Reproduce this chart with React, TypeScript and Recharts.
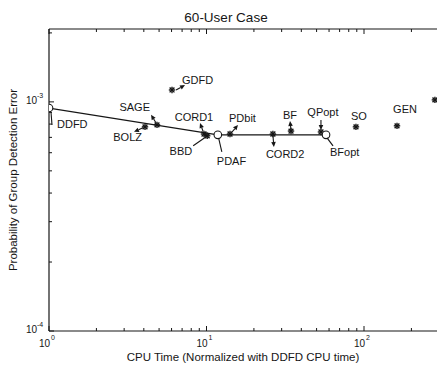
import React from 'react'
import { ComposedChart, Scatter, XAxis, YAxis } from 'recharts'

// methods and their results
const methods = ['DDFD', 'BOLZ', 'SAGE', 'GDFD', 'CORD1', 'BBD', 'PDAF', 'PDbit', 'CORD2', 'BF', 'QPopt', 'BFopt', 'SO', 'GEN', '']
const cpuTime = [1, 4.07, 4.85, 6.04, 9.64, 10.1, 11.8, 14.1, 26.4, 34.4, 53.3, 57.4, 88.9, 162, 282]
const errorProb = [9.4e-4, 7.78e-4, 7.94e-4, 1.127e-3, 7.24e-4, 7.11e-4, 7.18e-4, 7.24e-4, 7.24e-4, 7.46e-4, 7.39e-4, 7.18e-4, 7.78e-4, 7.86e-4, 1.02e-3]
// circled methods, joined by the solid line
const frontier = ['DDFD', 'PDAF', 'BFopt']

const xMajorTicks = [1, 10, 100]
const xMinorTicks = [2, 3, 4, 5, 6, 7, 8, 9, 20, 30, 40, 50, 60, 70, 80, 90, 200]
const yMajorTicks = [1e-4, 1e-3]
const yMinorTicks = [2e-4, 3e-4, 4e-4, 5e-4, 6e-4, 7e-4, 8e-4, 9e-4, 2e-3]

const FONT = '"Liberation Sans", Arial, Helvetica, sans-serif'
const INK = '#161616'

type Note = {
  dx: number
  dy: number
  anchor: 'start' | 'middle' | 'end'
  lead?: [number, number, number, number]
  head?: boolean
}

// where each label sits relative to its marker
const notes: Record<string, Note> = {
  DDFD: { dx: 8, dy: 20, anchor: 'start', lead: [2, 4, 3, 17] },
  BOLZ: { dx: -3, dy: 14, anchor: 'end', lead: [-2, 1, -11, 5], head: true },
  SAGE: { dx: -7, dy: -14, anchor: 'end', lead: [-1, -2, -6, -10], head: true },
  GDFD: { dx: 10, dy: -6, anchor: 'start', lead: [4, 0, 13, -5], head: true },
  CORD1: { dx: -10, dy: -13, anchor: 'middle', lead: [-1, -3, -4, -11], head: true },
  BBD: { dx: -15, dy: 19, anchor: 'end', lead: [-1, 1, -14, 10] },
  PDAF: { dx: -1, dy: 30, anchor: 'start', lead: [1, 4, 4, 17] },
  PDbit: { dx: -1, dy: -12, anchor: 'start', lead: [2, -2, 8, -9], head: true },
  CORD2: { dx: -7, dy: 24, anchor: 'start', lead: [0, 1, 1, 13], head: true },
  BF: { dx: -1, dy: -12, anchor: 'middle', lead: [0, -1, -1, -10], head: true },
  QPopt: { dx: 2, dy: -16, anchor: 'middle', lead: [0, -12, 0, -2], head: true },
  BFopt: { dx: 4, dy: 21, anchor: 'start', lead: [1, 3, 7, 11] },
  SO: { dx: 3, dy: -7, anchor: 'middle' },
  GEN: { dx: 8, dy: -13, anchor: 'middle' }
}

const points = methods.map((name, i) => ({ name, x: cpuTime[i], y: errorProb[i] }))
const frontierPoints = points.filter((p) => frontier.includes(p.name))

function Arrow({ x1, y1, x2, y2, head }: any) {
  const a = Math.atan2(y2 - y1, x2 - x1)
  const L = 5
  const W = 2.3
  const bx = x2 - L * Math.cos(a)
  const by = y2 - L * Math.sin(a)
  return (
    <g>
      <line x1={x1} y1={y1} x2={head ? bx : x2} y2={head ? by : y2} stroke={INK} strokeWidth={1.1} />
      {head && (
        <polygon
          points={`${x2},${y2} ${bx - W * Math.sin(a)},${by + W * Math.cos(a)} ${bx + W * Math.sin(a)},${by - W * Math.cos(a)}`}
          fill={INK}
        />
      )}
    </g>
  )
}

function Marker(props: any) {
  const { cx, cy, payload } = props
  if (cx == null || cy == null) return null
  const note = notes[payload.name]
  const r = 3.2
  return (
    <g>
      {frontier.includes(payload.name) ? (
        <circle cx={cx} cy={cy} r={3.8} fill="#fff" stroke={INK} strokeWidth={1.1} />
      ) : (
        <g stroke={INK} strokeWidth={1.4}>
          <line x1={cx - r} y1={cy} x2={cx + r} y2={cy} />
          <line x1={cx} y1={cy - r} x2={cx} y2={cy + r} />
          <line x1={cx - r * 0.75} y1={cy - r * 0.75} x2={cx + r * 0.75} y2={cy + r * 0.75} />
          <line x1={cx - r * 0.75} y1={cy + r * 0.75} x2={cx + r * 0.75} y2={cy - r * 0.75} />
        </g>
      )}
      {note && note.lead && (
        <Arrow
          x1={cx + note.lead[0]}
          y1={cy + note.lead[1]}
          x2={cx + note.lead[2]}
          y2={cy + note.lead[3]}
          head={note.head}
        />
      )}
      {note && (
        <text
          x={cx + note.dx}
          y={cy + note.dy}
          textAnchor={note.anchor}
          fontSize={11}
          fontFamily={FONT}
          fill={INK}
        >
          {payload.name}
        </text>
      )}
    </g>
  )
}

const powerOf = (v: number) => Math.round(Math.log10(v))
const isMajor = (v: number, majors: number[]) => majors.some((m) => Math.abs(m - v) / m < 1e-6)

function BottomTick(props: any) {
  const { x, y, payload } = props
  const major = isMajor(payload.value, xMajorTicks)
  return (
    <g>
      <line x1={x} y1={y} x2={x} y2={y - (major ? 5 : 3)} stroke={INK} strokeWidth={1} />
      {major && (
        <g fontFamily={FONT} fill={INK}>
          <text x={x + 1} y={y + 16} textAnchor="end" fontSize={10}>10</text>
          <text x={x + 2} y={y + 9} textAnchor="start" fontSize={7}>{powerOf(payload.value)}</text>
        </g>
      )}
    </g>
  )
}

function TopTick(props: any) {
  const { x, y, payload } = props
  const major = isMajor(payload.value, xMajorTicks)
  return <line x1={x} y1={y} x2={x} y2={y + (major ? 5 : 3)} stroke={INK} strokeWidth={1} />
}

function LeftTick(props: any) {
  const { x, y, payload } = props
  const major = isMajor(payload.value, yMajorTicks)
  return (
    <g>
      <line x1={x} y1={y} x2={x + (major ? 5 : 3)} y2={y} stroke={INK} strokeWidth={1} />
      {major && (
        <g fontFamily={FONT} fill={INK}>
          <text x={x - 12} y={y + 2} textAnchor="end" fontSize={10}>10</text>
          <text x={x - 12} y={y - 4} textAnchor="start" fontSize={7}>{powerOf(payload.value)}</text>
        </g>
      )}
    </g>
  )
}

export default function App() {
  return (
    <div style={{ position: 'fixed', left: 0, top: 0, width: 437, height: 368, overflow: 'hidden', background: '#fff' }}>
      <ComposedChart
        width={440}
        height={368}
        margin={{ top: 28, right: 2, bottom: 36, left: 48 }}
      >
        <XAxis
          xAxisId="b"
          dataKey="x"
          type="number"
          scale="log"
          domain={[1, 295]}
          allowDataOverflow
          ticks={[...xMajorTicks, ...xMinorTicks]}
          interval={0}
          height={1}
          tickSize={0}
          tickMargin={0}
          tickLine={false}
          axisLine={{ stroke: INK, strokeWidth: 1.2 }}
          tick={(p: any) => <BottomTick {...p} />}
        />
        <XAxis
          xAxisId="t"
          orientation="top"
          dataKey="x"
          type="number"
          scale="log"
          domain={[1, 295]}
          allowDataOverflow
          ticks={[...xMajorTicks, ...xMinorTicks]}
          interval={0}
          height={1}
          tickSize={0}
          tickMargin={0}
          tickLine={false}
          axisLine={{ stroke: INK, strokeWidth: 1.2 }}
          tick={(p: any) => <TopTick {...p} />}
        />
        <YAxis
          yAxisId="y"
          dataKey="y"
          type="number"
          scale="log"
          domain={[1e-4, 2.08e-3]}
          allowDataOverflow
          ticks={[...yMajorTicks, ...yMinorTicks]}
          interval={0}
          width={1}
          tickSize={0}
          tickMargin={0}
          tickLine={false}
          axisLine={{ stroke: INK, strokeWidth: 1.2 }}
          tick={(p: any) => <LeftTick {...p} />}
        />
        <Scatter
          xAxisId="t"
          yAxisId="y"
          data={points}
          shape={() => <g />}
          isAnimationActive={false}
        />
        <Scatter
          xAxisId="b"
          yAxisId="y"
          data={frontierPoints}
          line={{ stroke: INK, strokeWidth: 1.2 }}
          shape={() => <g />}
          isAnimationActive={false}
        />
        <Scatter
          xAxisId="b"
          yAxisId="y"
          data={points}
          shape={(p: any) => <Marker {...p} />}
          isAnimationActive={false}
        />
      </ComposedChart>
      <svg
        width={437}
        height={368}
        style={{ position: 'absolute', left: 0, top: 0, pointerEvents: 'none' }}
        fontFamily={FONT}
        fill={INK}
      >
        <text x={226} y={22} textAnchor="middle" fontSize={13.5}>60-User Case</text>
        <text x={243} y={361} textAnchor="middle" fontSize={11.5}>
          CPU Time (Normalized with DDFD CPU time)
        </text>
        <text x={17} y={180} textAnchor="middle" fontSize={11.5} transform="rotate(-90 17 180)">
          Probability of Group Detection Error
        </text>
      </svg>
    </div>
  )
}
